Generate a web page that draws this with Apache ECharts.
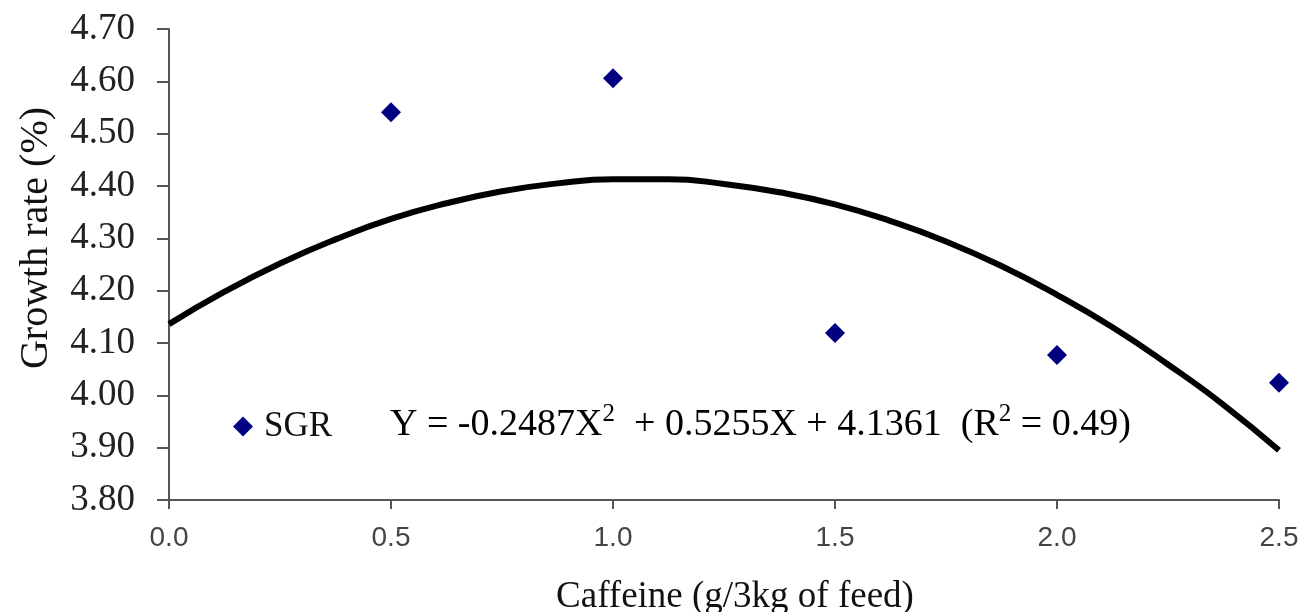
<!DOCTYPE html>
<html>
<head>
<meta charset="utf-8">
<script src="https://cdn.jsdelivr.net/npm/echarts@6/dist/echarts.min.js"></script>
<style>
  html, body { margin: 0; padding: 0; background: #fff; }
  #chart { width: 1304px; height: 612px; }
</style>
</head>
<body>
<div id="chart"></div>
<script>
// measured points (caffeine dose vs SGR)
var doseX = [0.5, 1.0, 1.5, 2.0, 2.5];
var sgrValues = [4.541, 4.606, 4.119, 4.077, 4.024];

// fitted curve
var fitX = [0, 0.125, 0.25, 0.375, 0.5, 0.625, 0.75, 0.875, 1.0, 1.125, 1.25,
            1.375, 1.5, 1.625, 1.75, 1.875, 2.0, 2.125, 2.25, 2.375, 2.5];
var fitY = [4.136, 4.198, 4.252, 4.298, 4.337, 4.367, 4.390, 4.405, 4.413, 4.413, 4.404,
            4.388, 4.365, 4.333, 4.294, 4.247, 4.192, 4.130, 4.059, 3.982, 3.895];

var yTicks = [3.8, 3.9, 4.0, 4.1, 4.2, 4.3, 4.4, 4.5, 4.6, 4.7];

var serif = '"Liberation Serif", "DejaVu Serif", serif';
var sans = '"Liberation Sans", Arial, sans-serif';

var chart = echarts.init(document.getElementById('chart'));

var option = {
  backgroundColor: '#fff',
  animation: false,
  grid: {
    left: 169,
    right: 25,
    top: 29,
    bottom: 112
  },
  legend: {
    data: ['SGR'],
    left: 228,
    top: 404,
    itemWidth: 20,
    itemHeight: 20,
    itemGap: 10,
    textStyle: {
      fontFamily: serif,
      fontSize: 35,
      color: '#111',
      padding: [0, 0, 0, 6]
    }
  },
  xAxis: {
    type: 'value',
    min: 0,
    max: 2.5,
    interval: 0.5,
    splitLine: { show: false },
    axisLine: { lineStyle: { color: '#555', width: 2 } },
    axisTick: { length: 9, lineStyle: { color: '#555', width: 2 } },
    axisLabel: {
      margin: 24,
      fontFamily: sans,
      fontSize: 28,
      color: '#444',
      formatter: function (v) { return v.toFixed(1); }
    }
  },
  yAxis: {
    type: 'value',
    min: yTicks[0],
    max: yTicks[yTicks.length - 1],
    interval: 0.1,
    splitLine: { show: false },
    axisLine: { show: true, lineStyle: { color: '#555', width: 2 } },
    axisTick: { show: true, length: 12, lineStyle: { color: '#555', width: 2 } },
    axisLabel: {
      margin: 34,
      fontFamily: serif,
      fontSize: 37,
      color: '#222',
      formatter: function (v) { return v.toFixed(2); }
    }
  },
  series: [
    {
      name: 'fit',
      type: 'line',
      data: fitX.map(function (x, i) { return [x, fitY[i]]; }),
      smooth: true,
      showSymbol: false,
      symbol: 'none',
      lineStyle: { color: '#000', width: 6 },
      z: 2
    },
    {
      name: 'SGR',
      type: 'scatter',
      data: doseX.map(function (x, i) { return [x, sgrValues[i]]; }),
      symbol: 'diamond',
      symbolSize: 20,
      itemStyle: { color: '#000080', opacity: 1 },
      z: 3
    }
  ],
  graphic: [
    {
      type: 'text',
      left: 390,
      top: 402,
      style: {
        text: '{n|Y = -0.2487X}{s|2}{n|  + 0.5255X + 4.1361  (R}{s|2}{n| = 0.49)}',
        rich: {
          n: { fontFamily: serif, fontSize: 38, color: '#111', lineHeight: 42, verticalAlign: 'bottom' },
          s: { fontFamily: serif, fontSize: 25, color: '#111', lineHeight: 42, verticalAlign: 'top' }
        }
      }
    },
    {
      type: 'text',
      x: 735,
      y: 597,
      style: {
        text: 'Caffeine (g/3kg of feed)',
        fontFamily: serif,
        fontSize: 37,
        fill: '#111',
        align: 'center',
        verticalAlign: 'middle'
      }
    },
    {
      type: 'text',
      x: 36,
      y: 238,
      rotation: Math.PI / 2,
      style: {
        text: 'Growth rate (%)',
        fontFamily: serif,
        fontSize: 40,
        fill: '#111',
        align: 'center',
        verticalAlign: 'middle'
      }
    }
  ]
};

chart.setOption(option);
</script>
</body>
</html>
